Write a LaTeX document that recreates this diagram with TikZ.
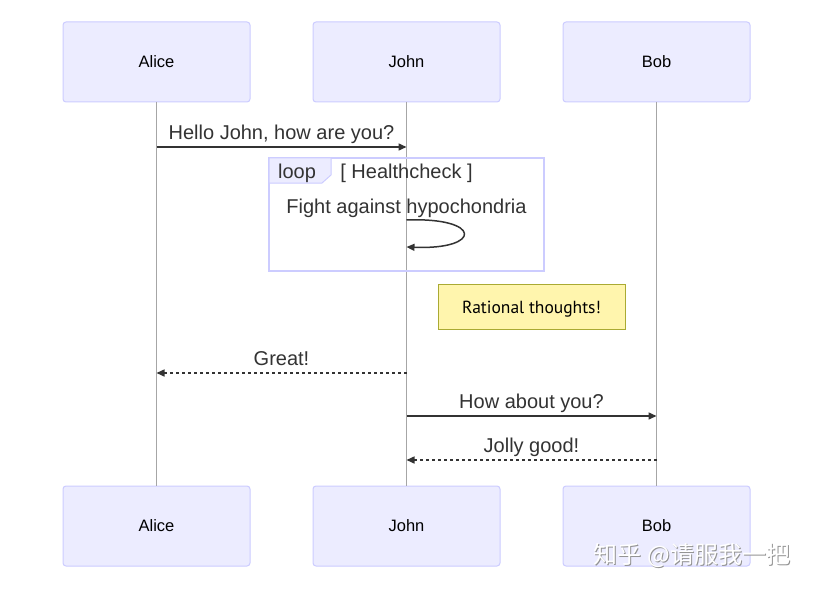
\documentclass[tikz,border=0pt]{standalone}
\usepackage{fontspec}
\setmainfont{Liberation Sans}
\newfontfamily\notefont{PT Sans}
\newfontfamily\cjkfont{Noto Sans CJK SC}
\usetikzlibrary{positioning,arrows.meta}
\definecolor{actfill}{HTML}{ECECFF}
\definecolor{actline}{HTML}{CCCCFF}
\definecolor{txt}{HTML}{333333}
\definecolor{lifeln}{HTML}{A6A6A6}
\definecolor{notefill}{HTML}{FFF5AD}
\definecolor{noteline}{HTML}{AAAA33}
\tikzset{
  actor/.style={draw=actline, line width=1pt, fill=actfill, rounded corners=3pt, outer sep=0pt,
    minimum width=187pt, minimum height=80pt, font=\fontsize{16.5}{20}\selectfont, text=black},
  life/.style={draw=lifeln, line width=0.8pt},
  msg/.style={draw=txt, line width=1.5pt, -{Triangle[length=8pt,width=7pt]}},
  reply/.style={msg, dash pattern=on 3pt off 3pt},
  lbl/.style={font=\fontsize{20}{23}\selectfont, text=txt, text depth=0.22em, inner sep=2pt},
  loopbox/.style={draw=actline, line width=2pt},
  note/.style={draw=noteline, line width=1pt, fill=notefill, minimum width=187pt,
    minimum height=45pt, text height=14pt, text depth=0pt,
    font=\notefont\fontsize{17.5}{20}\selectfont, text=black}
}
\begin{document}
\begin{tikzpicture}[x=1pt,y=-1pt]
\useasboundingbox[fill=white] (0,0) rectangle (814,591);
\node[actor] (A) at (156.5,62) {Alice};
\node[actor, right=63pt of A] (J) {John};
\node[actor, right=63pt of J] (B) {Bob};
\node[actor] (A2) at (156.5,526) {Alice};
\node[actor, right=63pt of A2] (J2) {John};
\node[actor, right=63pt of J2] (B2) {Bob};
\draw[life] (A) -- (A2);
\draw[life] (J) -- (J2);
\draw[life] (B) -- (B2);
\draw[msg] (A.south |- 0,147) -- node[lbl, above=3pt] {Hello John, how are you?} (J.south |- 0,147);
\draw[loopbox] (269,158) rectangle (544,271);
\draw[actline, line width=1pt, fill=actfill] (269,158) -- (331,158) -- (331,175) -- (322,183) -- (269,183) -- cycle;
\node[lbl] (lp) at (297,172) {loop};
\node[lbl] (hc) at (406.5,172) {[ Healthcheck ]};
\node[lbl] (fa) at (406.5,207) {Fight against hypochondria};
\draw[msg] (J.south |- 0,220) .. controls +(76,-3) and +(76,3) .. (J.south |- 0,247);
\node[note] (N) at (531.5,306.5) {Rational thoughts!};
\draw[reply] (J.south |- 0,373) -- node[lbl, above=3pt] {Great!} (A.south |- 0,373);
\draw[msg] (J.south |- 0,416) -- node[lbl, above=3pt] {How about you?} (B.south |- 0,416);
\draw[reply] (B.south |- 0,460) -- node[lbl, above=3pt] {Jolly good!} (J.south |- 0,460);
\node[text=gray!85, font=\cjkfont\fontsize{24}{28}\selectfont] at (693,556) {知乎 @请服我一把};
\node[text=white, font=\cjkfont\fontsize{24}{28}\selectfont] (wm) at (692,555) {知乎 @请服我一把};
\end{tikzpicture}
\end{document}
